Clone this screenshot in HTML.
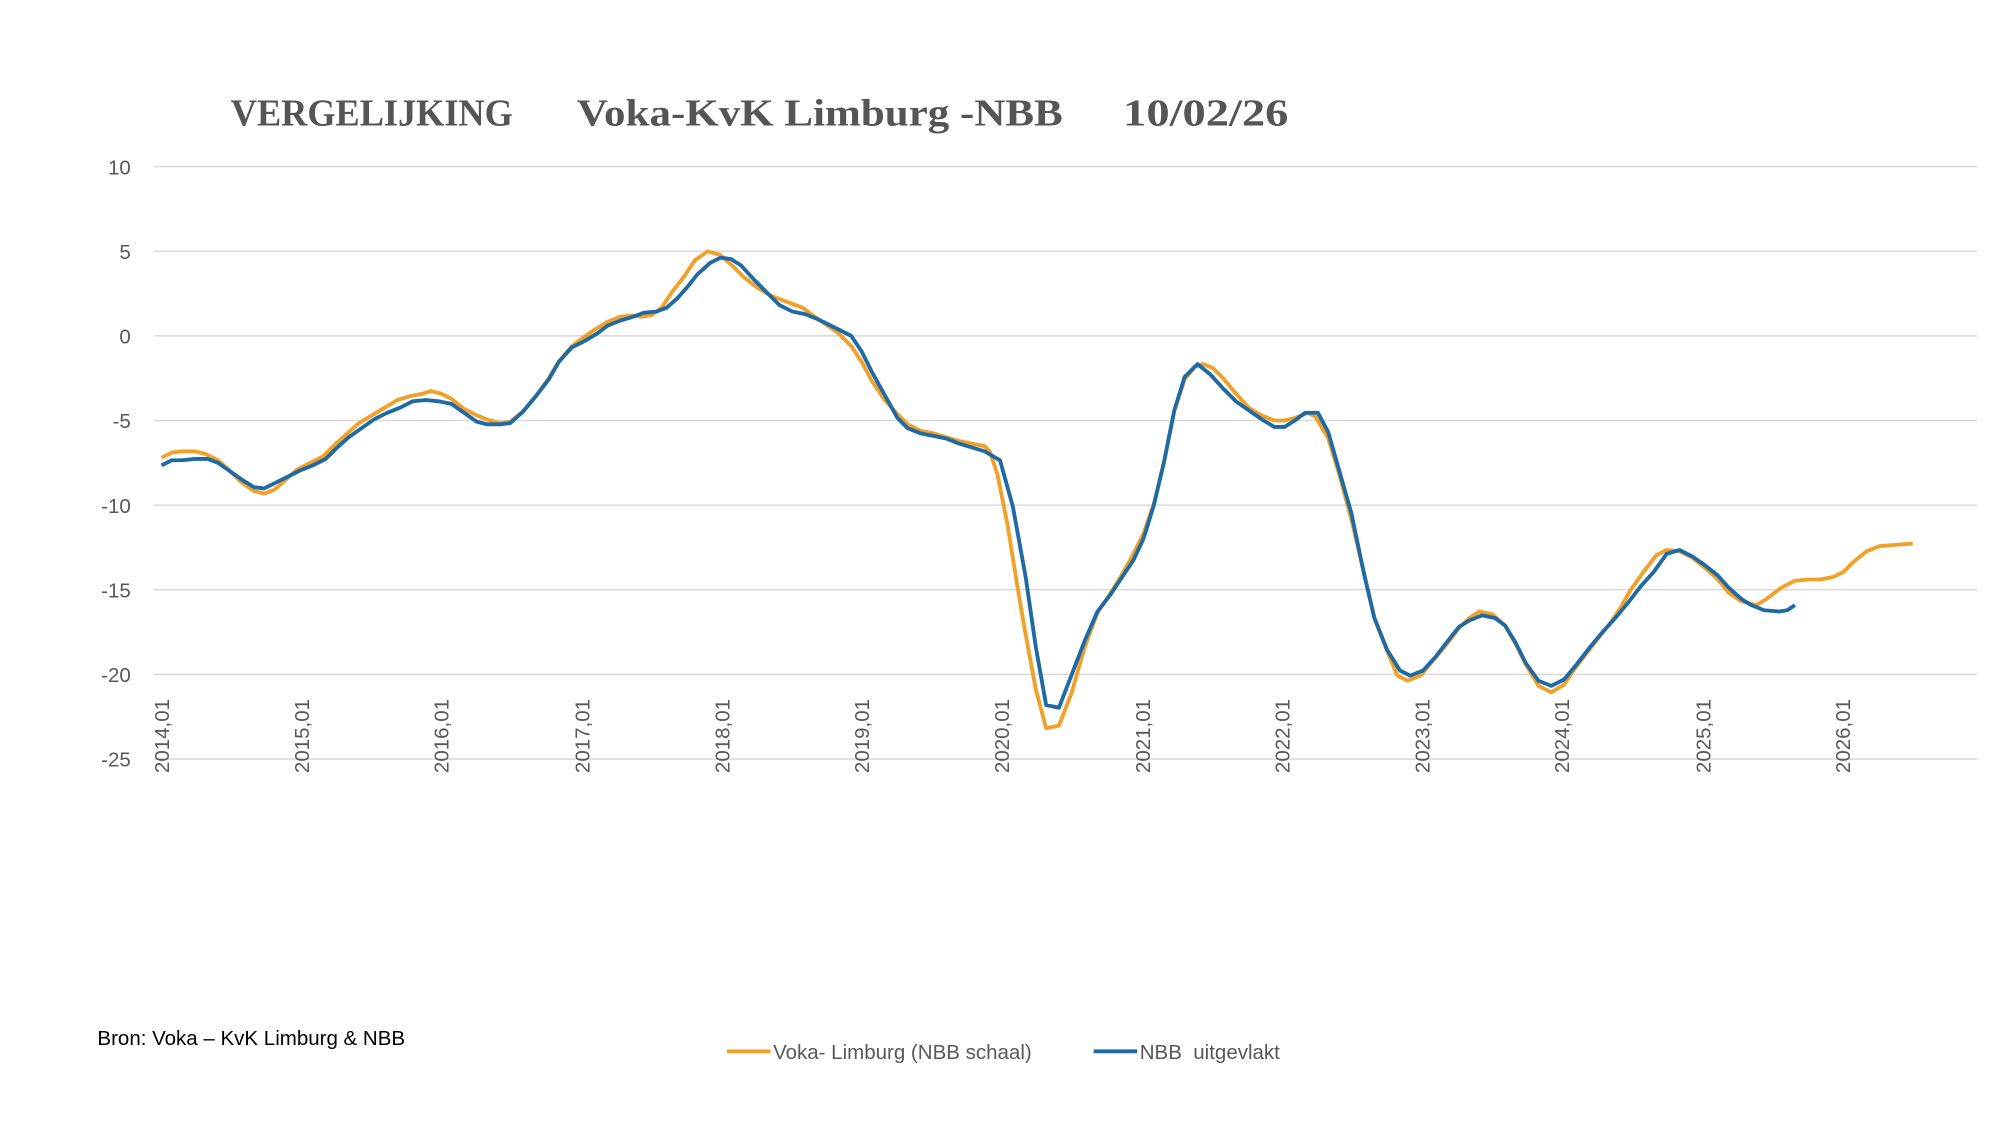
<!DOCTYPE html>
<html><head><meta charset="utf-8"><style>html,body{margin:0;padding:0;background:#fff}svg{display:block}</style></head>
<body>
<svg width="2000" height="1125" viewBox="0 0 1560 877.5" xmlns="http://www.w3.org/2000/svg">
<rect width="1560" height="877.5" fill="#fff"/>
<g font-family="Liberation Serif, serif" font-weight="bold" font-size="30" fill="#555">
<text x="180" y="98" textLength="220" lengthAdjust="spacingAndGlyphs">VERGELIJKING</text>
<text x="450" y="98" textLength="379" lengthAdjust="spacingAndGlyphs">Voka-KvK Limburg -NBB</text>
<text x="876" y="98" textLength="129" lengthAdjust="spacingAndGlyphs">10/02/26</text>
</g>
<g stroke="#d9d9d9" stroke-width="1.2">
<line x1="120" x2="1542" y1="130" y2="130"/><line x1="120" x2="1542" y1="196" y2="196"/>
<line x1="120" x2="1542" y1="262" y2="262"/><line x1="120" x2="1542" y1="328" y2="328"/>
<line x1="120" x2="1542" y1="394" y2="394"/><line x1="120" x2="1542" y1="460" y2="460"/>
<line x1="120" x2="1542" y1="526" y2="526"/><line x1="120" x2="1542" y1="592" y2="592"/>
</g>
<g font-family="Liberation Sans, sans-serif" font-size="16" fill="#595959" text-anchor="end">
<text x="102" y="136">10</text><text x="102" y="202">5</text><text x="102" y="268">0</text>
<text x="102" y="334">-5</text><text x="102" y="400">-10</text><text x="102" y="466">-15</text>
<text x="102" y="532">-20</text><text x="102" y="598">-25</text>
</g>
<g font-family="Liberation Sans, sans-serif" font-size="16" fill="#595959">
<text transform="translate(132,603) rotate(-90)">2014,01</text>
<text transform="translate(241,603) rotate(-90)">2015,01</text>
<text transform="translate(350,603) rotate(-90)">2016,01</text>
<text transform="translate(460,603) rotate(-90)">2017,01</text>
<text transform="translate(569,603) rotate(-90)">2018,01</text>
<text transform="translate(678,603) rotate(-90)">2019,01</text>
<text transform="translate(787,603) rotate(-90)">2020,01</text>
<text transform="translate(897,603) rotate(-90)">2021,01</text>
<text transform="translate(1006,603) rotate(-90)">2022,01</text>
<text transform="translate(1115,603) rotate(-90)">2023,01</text>
<text transform="translate(1224,603) rotate(-90)">2024,01</text>
<text transform="translate(1334,603) rotate(-90)">2025,01</text>
<text transform="translate(1443,603) rotate(-90)">2026,01</text>
</g>
<polyline fill="none" stroke="#f0a12a" stroke-width="3" stroke-linejoin="round" points="126,357 134,353 142,352 152,352 160,354 170,359 178,366 188,376 198,383 206,385 214,382 222,375 232,366 242,361 252,356 262,346 272,337 280,330 290,324 300,318 310,312 320,309 330,307 336,305 344,307 352,311 362,319 372,324 382,328 390,330 398,329 408,321 418,309 428,295 436,282 446,270 454,264 464,257 474,251 484,247 494,246 500,247 508,246 516,240 524,228 534,215 542,203 552,196 562,199 572,208 580,216 590,224 600,230 610,234 618,237 626,240 634,246 644,253 654,260 664,270 672,282 680,297 690,312 700,323 708,331 718,336 728,338 738,341 748,344 758,346 768,348 772,352 778,370 786,410 794,460 800,495 808,538 816,568 826,566 836,540 846,505 856,478 866,463 874,450 882,436 892,416 900,393 908,360 916,320 924,296 932,286 938,284 946,287 954,295 964,307 974,318 984,324 994,328 1002,328 1010,326 1020,322 1026,325 1036,342 1044,368 1054,405 1064,447 1072,482 1082,508 1090,527 1098,531 1108,527 1118,515 1128,503 1138,490 1146,482 1154,477 1164,479 1174,488 1182,502 1190,518 1200,535 1210,540 1220,534 1228,522 1238,509 1248,496 1256,486 1264,474 1272,460 1282,446 1292,433 1300,429 1310,430 1320,435 1330,443 1340,452 1348,462 1358,469 1370,472 1378,467 1390,458 1400,453 1410,452 1420,452 1430,450 1438,446 1446,438 1456,430 1466,426 1478,425 1492,424"/>
<polyline fill="none" stroke="#1f6aa5" stroke-width="3" stroke-linejoin="round" points="126,363 134,359 142,359 152,358 162,358 170,361 180,368 190,375 198,380 206,381 214,377 224,372 234,367 244,363 254,358 262,350 272,341 282,334 292,327 302,322 312,318 322,313 332,312 342,313 352,315 362,322 372,329 380,331 390,331 398,330 408,321 418,309 428,296 436,282 446,271 456,266 466,260 474,254 484,250 494,247 502,244 512,243 520,240 528,233 536,224 544,214 554,205 562,201 570,202 578,207 588,218 598,228 608,238 618,243 628,245 638,249 648,254 656,258 664,262 672,274 680,290 690,308 700,326 708,334 718,338 728,340 738,342 748,346 758,349 768,352 780,359 790,395 800,450 808,505 816,550 826,552 836,526 846,500 856,477 866,464 874,452 884,437 892,420 900,394 908,360 916,320 924,294 934,284 944,292 954,303 964,313 974,320 984,327 994,333 1002,333 1010,328 1018,322 1028,322 1036,337 1044,365 1054,400 1064,448 1072,482 1082,507 1092,523 1100,527 1110,523 1120,512 1130,499 1138,489 1146,484 1156,480 1166,482 1174,488 1182,501 1190,517 1200,531 1210,535 1220,530 1230,518 1240,505 1250,493 1260,482 1270,470 1280,457 1290,446 1300,432 1310,429 1320,434 1330,441 1340,449 1348,458 1358,467 1366,472 1376,476 1388,477 1394,476 1400,472"/>
<g font-family="Liberation Sans, sans-serif" font-size="16">
<text x="76" y="815" fill="#000">Bron: Voka – KvK Limburg &amp; NBB</text>
<line x1="567" x2="601" y1="820" y2="820" stroke="#f0a12a" stroke-width="3"/>
<text x="603" y="826" fill="#595959">Voka- Limburg (NBB schaal)</text>
<line x1="853" x2="887" y1="820" y2="820" stroke="#1f6aa5" stroke-width="3"/>
<text x="889" y="826" fill="#595959" xml:space="preserve">NBB  uitgevlakt</text>
</g>
</svg>
</body></html>
